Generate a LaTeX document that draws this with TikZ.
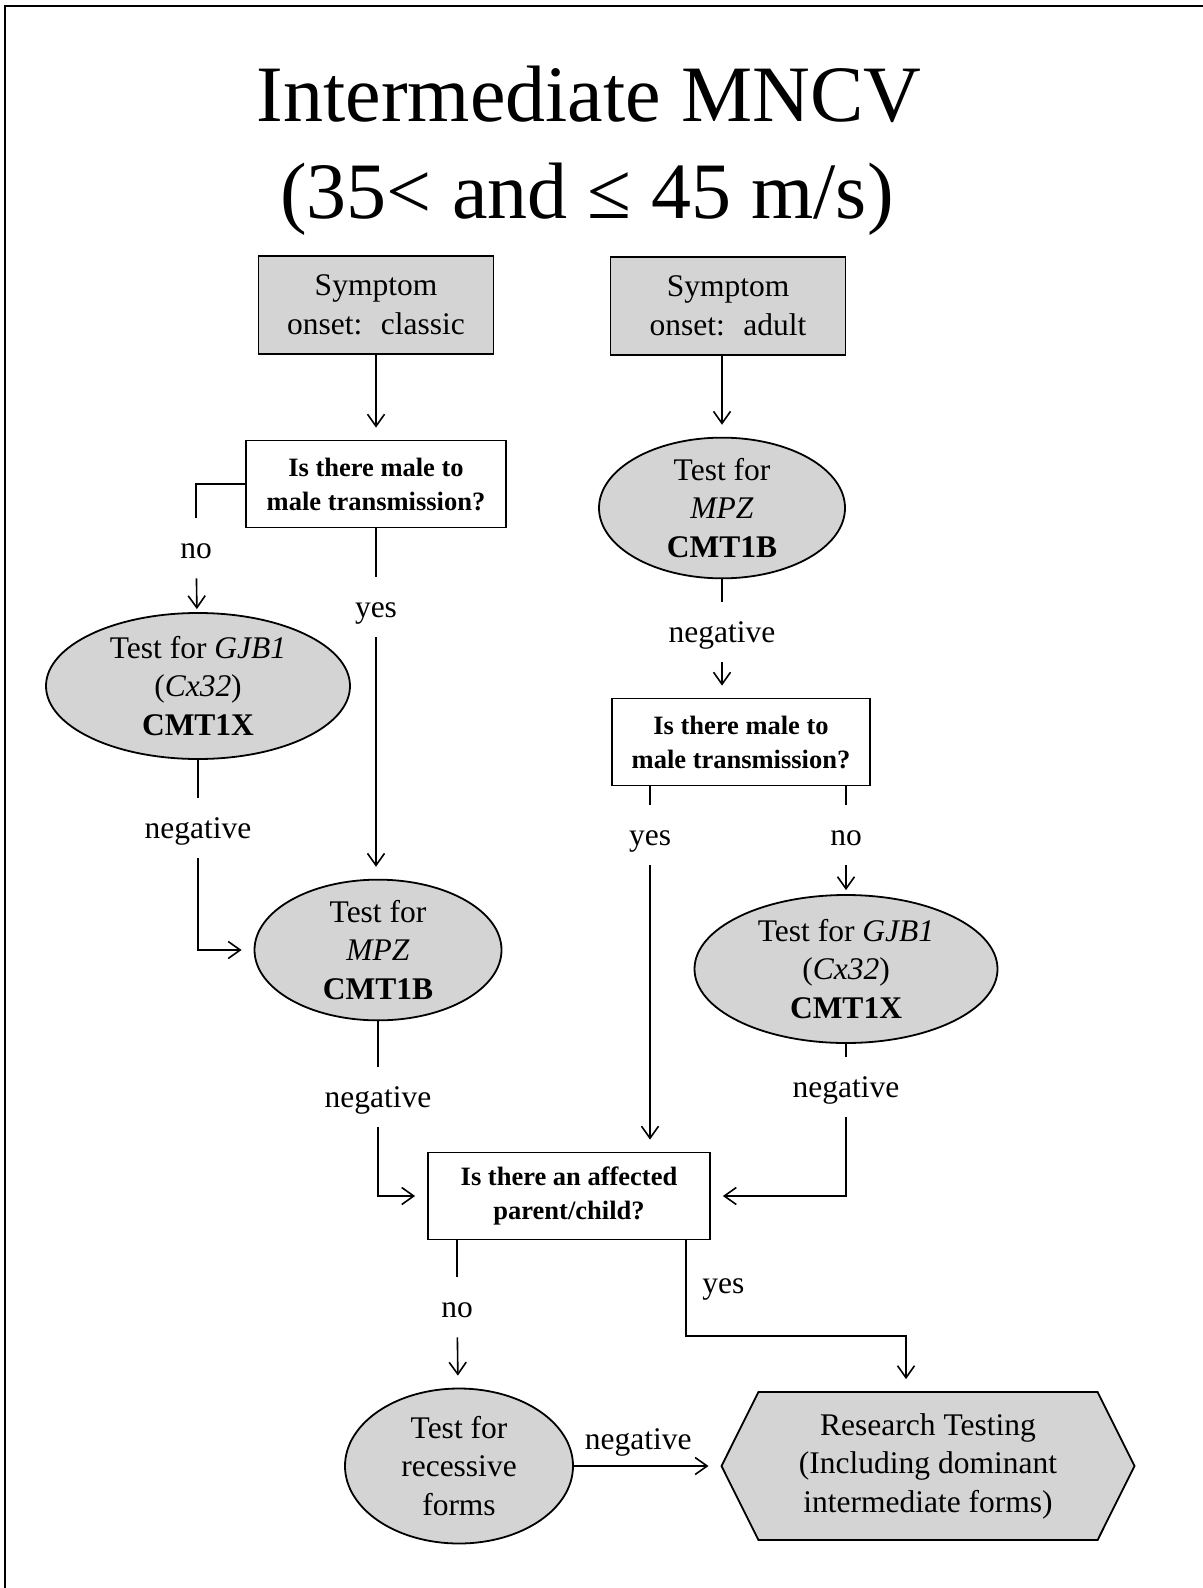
\documentclass[tikz,border=0pt]{standalone}
\usepackage{fontspec}
\setmainfont{Liberation Serif}
\usetikzlibrary{arrows.meta,positioning,shapes.geometric,shapes.symbols}
\definecolor{boxgray}{HTML}{D4D4D4}
\newcommand{\bodyfont}{\fontsize{15.75pt}{19.25pt}\selectfont}
\newcommand{\askfont}{\fontsize{13.25pt}{17pt}\selectfont\bfseries}
\newcommand{\titlefont}{\fontsize{40pt}{49pt}\selectfont}
\tikzset{
  % gray boxes, white question boxes, gray test ovals
  blk/.style   = {rectangle, draw, fill=boxgray, line width=0.9pt, align=center,
                  inner sep=0pt, font=\bodyfont, minimum width=117.5pt, minimum height=49pt},
  ask/.style   = {rectangle, draw, fill=white, line width=0.9pt, align=center,
                  inner sep=0pt, font=\askfont, minimum height=43.5pt},
  oval/.style  = {ellipse, draw, fill=boxgray, line width=0.9pt, align=center,
                  inner sep=0pt, font=\bodyfont},
  hex/.style   = {signal, signal to=east and west, signal pointer angle=127, draw,
                  fill=boxgray, line width=0.9pt, align=center, inner sep=0pt, font=\bodyfont},
  lbl/.style   = {font=\bodyfont, inner xsep=2pt, inner ysep=5pt, text height=15pt, text depth=5pt},
  lane/.style  = {line width=0.8pt},
  arr/.style   = {lane, -{Straight Barb[length=6pt,width=8.5pt]}, shorten >=6pt},
  frame/.style = {line width=1.2pt},
}

\begin{document}
\begin{tikzpicture}[x=0.5pt, y=-0.5pt]
\useasboundingbox (0,0) rectangle (1203,1588);
\draw[frame] (5,1588) -- (5,6) -- (1203,6);

% --- title ------------------------------------------------------------
\node[font=\titlefont, anchor=base] (title1) at (589,122) {Intermediate MNCV};
\node[font=\titlefont, anchor=base] (title2) at (587,219) {(35< and ≤ 45 m/s)};

% --- onset boxes ------------------------------------------------------
\node[blk] (symA) at (376,305) {Symptom\\onset:~ classic};
\node[blk] (symB) at (728,306) {Symptom\\onset:~ adult};

% --- classic branch ---------------------------------------------------
\node[ask, minimum width=130pt] (q1) at (376,484) {Is there male to\\male transmission?};
\node[lbl] (noL)  at (196,548) {no};
\node[lbl] (yesL) at (376,607) {yes};
\node[oval, minimum width=152pt, minimum height=73pt] (gjbL) at (198,686)
  {Test for \textit{GJB1}\\(\textit{Cx32})\\\textbf{CMT1X}};
\node[lbl] (negGL) at (198,828) {negative};
\node[oval, minimum width=123.5pt, minimum height=67pt] (mpzL) at (378,950)
  {Test for\\\textit{MPZ}\\\textbf{CMT1B}};
\node[lbl] (negML) at (378,1097) {negative};

% --- adult branch -----------------------------------------------------
\node[oval, minimum width=123pt, minimum height=66.5pt] (mpzR) at (722,508)
  {Test for\\\textit{MPZ}\\\textbf{CMT1B}};
\node[lbl] (negMR) at (722,632) {negative};
\node[ask, minimum width=129pt] (q2) at (741,742) {Is there male to\\male transmission?};
\node[lbl] (yesR) at (650,835) {yes};
\node[lbl] (noR)  at (846,835) {no};
\node[oval, minimum width=151.5pt, minimum height=74pt] (gjbR) at (846,969)
  {Test for \textit{GJB1}\\(\textit{Cx32})\\\textbf{CMT1X}};
\node[lbl] (negGR) at (846,1087) {negative};

% --- affected parent/child -------------------------------------------
\node[ask, minimum width=141pt] (q3) at (569,1196) {Is there an affected\\parent/child?};
\node[lbl] (noB) at (457,1307) {no};
\node[lbl, anchor=west] (yesB) at (698,1283) {yes};
\node[oval, minimum width=114pt, minimum height=77.5pt] (rec) at (459,1466)
  {Test for\\recessive\\forms};
\node[hex, minimum width=206.5pt, minimum height=74pt] (res) at (928,1466)
  {Research Testing\\(Including dominant\\intermediate forms)};
\coordinate (yesbend) at (686,1336);
\coordinate (yesdrop) at (906,1336);

% --- arrows -----------------------------------------------------------
\draw[arr] (symA) -- (q1);
\draw[arr] (symB.south -| mpzR) -- (mpzR);
\draw[lane] (q1.west) -| (noL);
\draw[arr, shorten >=1.5pt] (noL) -- (gjbL);
\draw[lane] (q1) -- (yesL);
\draw[arr] (yesL) -- (yesL |- mpzL.north);
\draw[lane] (gjbL) -- (negGL);
\draw[arr] (negGL) |- (mpzL);
\draw[lane] (mpzL) -- (negML);
\draw[arr] (negML) |- (q3);
\draw[lane] (mpzR) -- (negMR);
\draw[arr] (negMR) -- (negMR |- q2.north);
\draw[lane] (yesR |- q2.south) -- (yesR);
\draw[arr] (yesR) -- (yesR |- q3.north);
\draw[lane] (noR |- q2.south) -- (noR);
\draw[arr, shorten >=2pt] (noR) -- (gjbR);
\draw[lane] (gjbR) -- (negGR);
\draw[arr] (negGR) |- (q3);
\draw[lane] (noB |- q3.south) -- (noB);
\draw[arr] (noB) -- (rec);
\draw[arr] (yesbend |- q3.south) -- (yesbend) -- (yesdrop) -- (yesdrop |- res.north);
\draw[arr] (rec) -- (res) node[lbl, midway, above=-2pt, xshift=-4.5pt] (negB) {negative};
\end{tikzpicture}
\end{document}
